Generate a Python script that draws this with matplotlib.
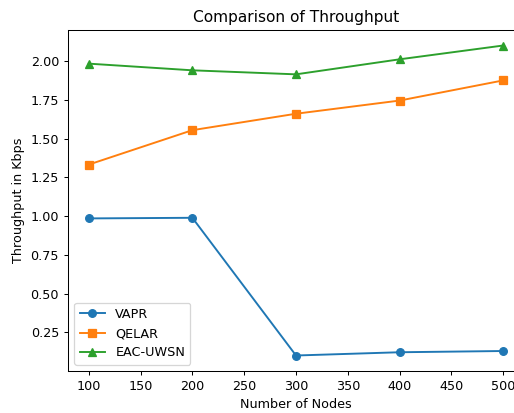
import matplotlib
matplotlib.use("Agg")
import matplotlib.pyplot as plt

nodes = [100, 200, 300, 400, 500]
vapr = [0.985, 0.989, 0.101, 0.122, 0.130]
qelar = [1.332, 1.554, 1.660, 1.745, 1.875]
eac_uwsn = [1.983, 1.940, 1.914, 2.011, 2.100]

W, H, DPI = 514, 413, 92
fig = plt.figure(figsize=(W / DPI, H / DPI), dpi=DPI)
ax = fig.add_axes([68 / W, (H - 371) / H, (524 - 68) / W, (371 - 30) / H])
ax.plot(nodes, vapr, marker='o', label='VAPR')
ax.plot(nodes, qelar, marker='s', label='QELAR')
ax.plot(nodes, eac_uwsn, marker='^', label='EAC-UWSN')
ax.set_title('Comparison of Throughput')
ax.set_xlabel('Number of Nodes')
ax.set_ylabel('Throughput in Kbps')
ax.legend(loc='lower left')
fig.savefig('out.png', dpi=DPI)
